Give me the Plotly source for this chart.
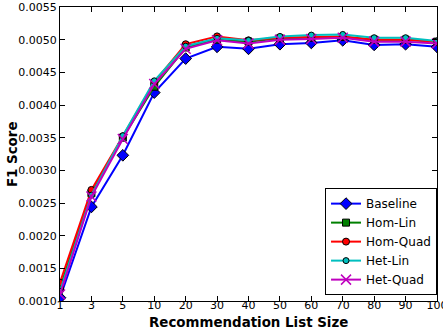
import plotly.graph_objects as go

sizes = ["1", "3", "5", "10", "20", "30", "40", "50", "60", "70", "80", "90", "100"]
baseline = [0.00105, 0.00244, 0.00323, 0.00419, 0.00471, 0.00489, 0.00486, 0.00493, 0.00495, 0.00499, 0.00492, 0.00493, 0.00489]
hom_lin = [0.00120, 0.00265, 0.00350, 0.00428, 0.00488, 0.00500, 0.00497, 0.00502, 0.00503, 0.00504, 0.00500, 0.00500, 0.00497]
hom_quad = [0.00128, 0.00270, 0.00352, 0.00435, 0.00493, 0.00505, 0.00499, 0.00503, 0.00504, 0.00505, 0.00500, 0.00500, 0.00497]
het_lin = [0.00115, 0.00262, 0.00353, 0.00437, 0.00490, 0.00502, 0.00499, 0.00505, 0.00507, 0.00508, 0.00503, 0.00503, 0.00498]
het_quad = [0.00110, 0.00260, 0.00348, 0.00432, 0.00486, 0.00499, 0.00494, 0.00500, 0.00501, 0.00503, 0.00497, 0.00497, 0.00494]

series = [
    ("Baseline", baseline, "#0000ff", "diamond", 9),
    ("Hom-Lin", hom_lin, "#008000", "square", 7),
    ("Hom-Quad", hom_quad, "#ff0000", "circle", 7),
    ("Het-Lin", het_lin, "#00bfbf", "circle", 6),
    ("Het-Quad", het_quad, "#bf00bf", "x-thin", 10),
]

fig = go.Figure()
for name, vals, color, sym, sz in series:
    if sym == "x-thin":
        marker = dict(symbol=sym, size=sz, line=dict(color=color, width=1.5), color=color)
    else:
        marker = dict(symbol=sym, size=sz, color=color, line=dict(color="black", width=1))
    fig.add_trace(go.Scatter(x=sizes, y=vals, name=name, mode="lines+markers",
                             line=dict(color=color, width=2), marker=marker))

axis_common = dict(showline=True, linecolor="black", linewidth=1, mirror="ticks",
                   ticks="inside", ticklen=5, tickcolor="black", showgrid=False,
                   zeroline=False, automargin=False,
                   tickfont=dict(family="DejaVu Sans", size=11, color="black"))

fig.update_xaxes(type="category", range=[0, 12], ticklabelstandoff=-6, **axis_common)
fig.update_yaxes(range=[0.001, 0.0055], dtick=0.0005, tickformat=".4f", **axis_common)

title_font = dict(family="DejaVu Sans", size=13.4, color="black")
fig.add_annotation(text="<b>Recommendation List Size</b>", xref="paper", yref="paper",
                   x=0.5, y=-0.072, xanchor="center", yanchor="middle",
                   showarrow=False, font=title_font)
fig.add_annotation(text="<b>F1 Score</b>", xref="paper", yref="paper",
                   x=-0.127, y=0.5, xanchor="center", yanchor="middle", textangle=-90,
                   showarrow=False, font=title_font)

fig.update_layout(
    width=443, height=334,
    margin=dict(l=60, r=6, t=7, b=33),
    paper_bgcolor="white", plot_bgcolor="white",
    font=dict(family="DejaVu Sans", color="black"),
    legend=dict(x=0.703, xanchor="left", y=0.02, yanchor="bottom",
                bgcolor="white", bordercolor="black", borderwidth=1,
                font=dict(family="DejaVu Sans", size=12, color="black"),
                tracegroupgap=0, itemwidth=30),
)

fig.write_html("out.html", config={"displayModeBar": False},
               post_script="document.body.style.margin='0';")
